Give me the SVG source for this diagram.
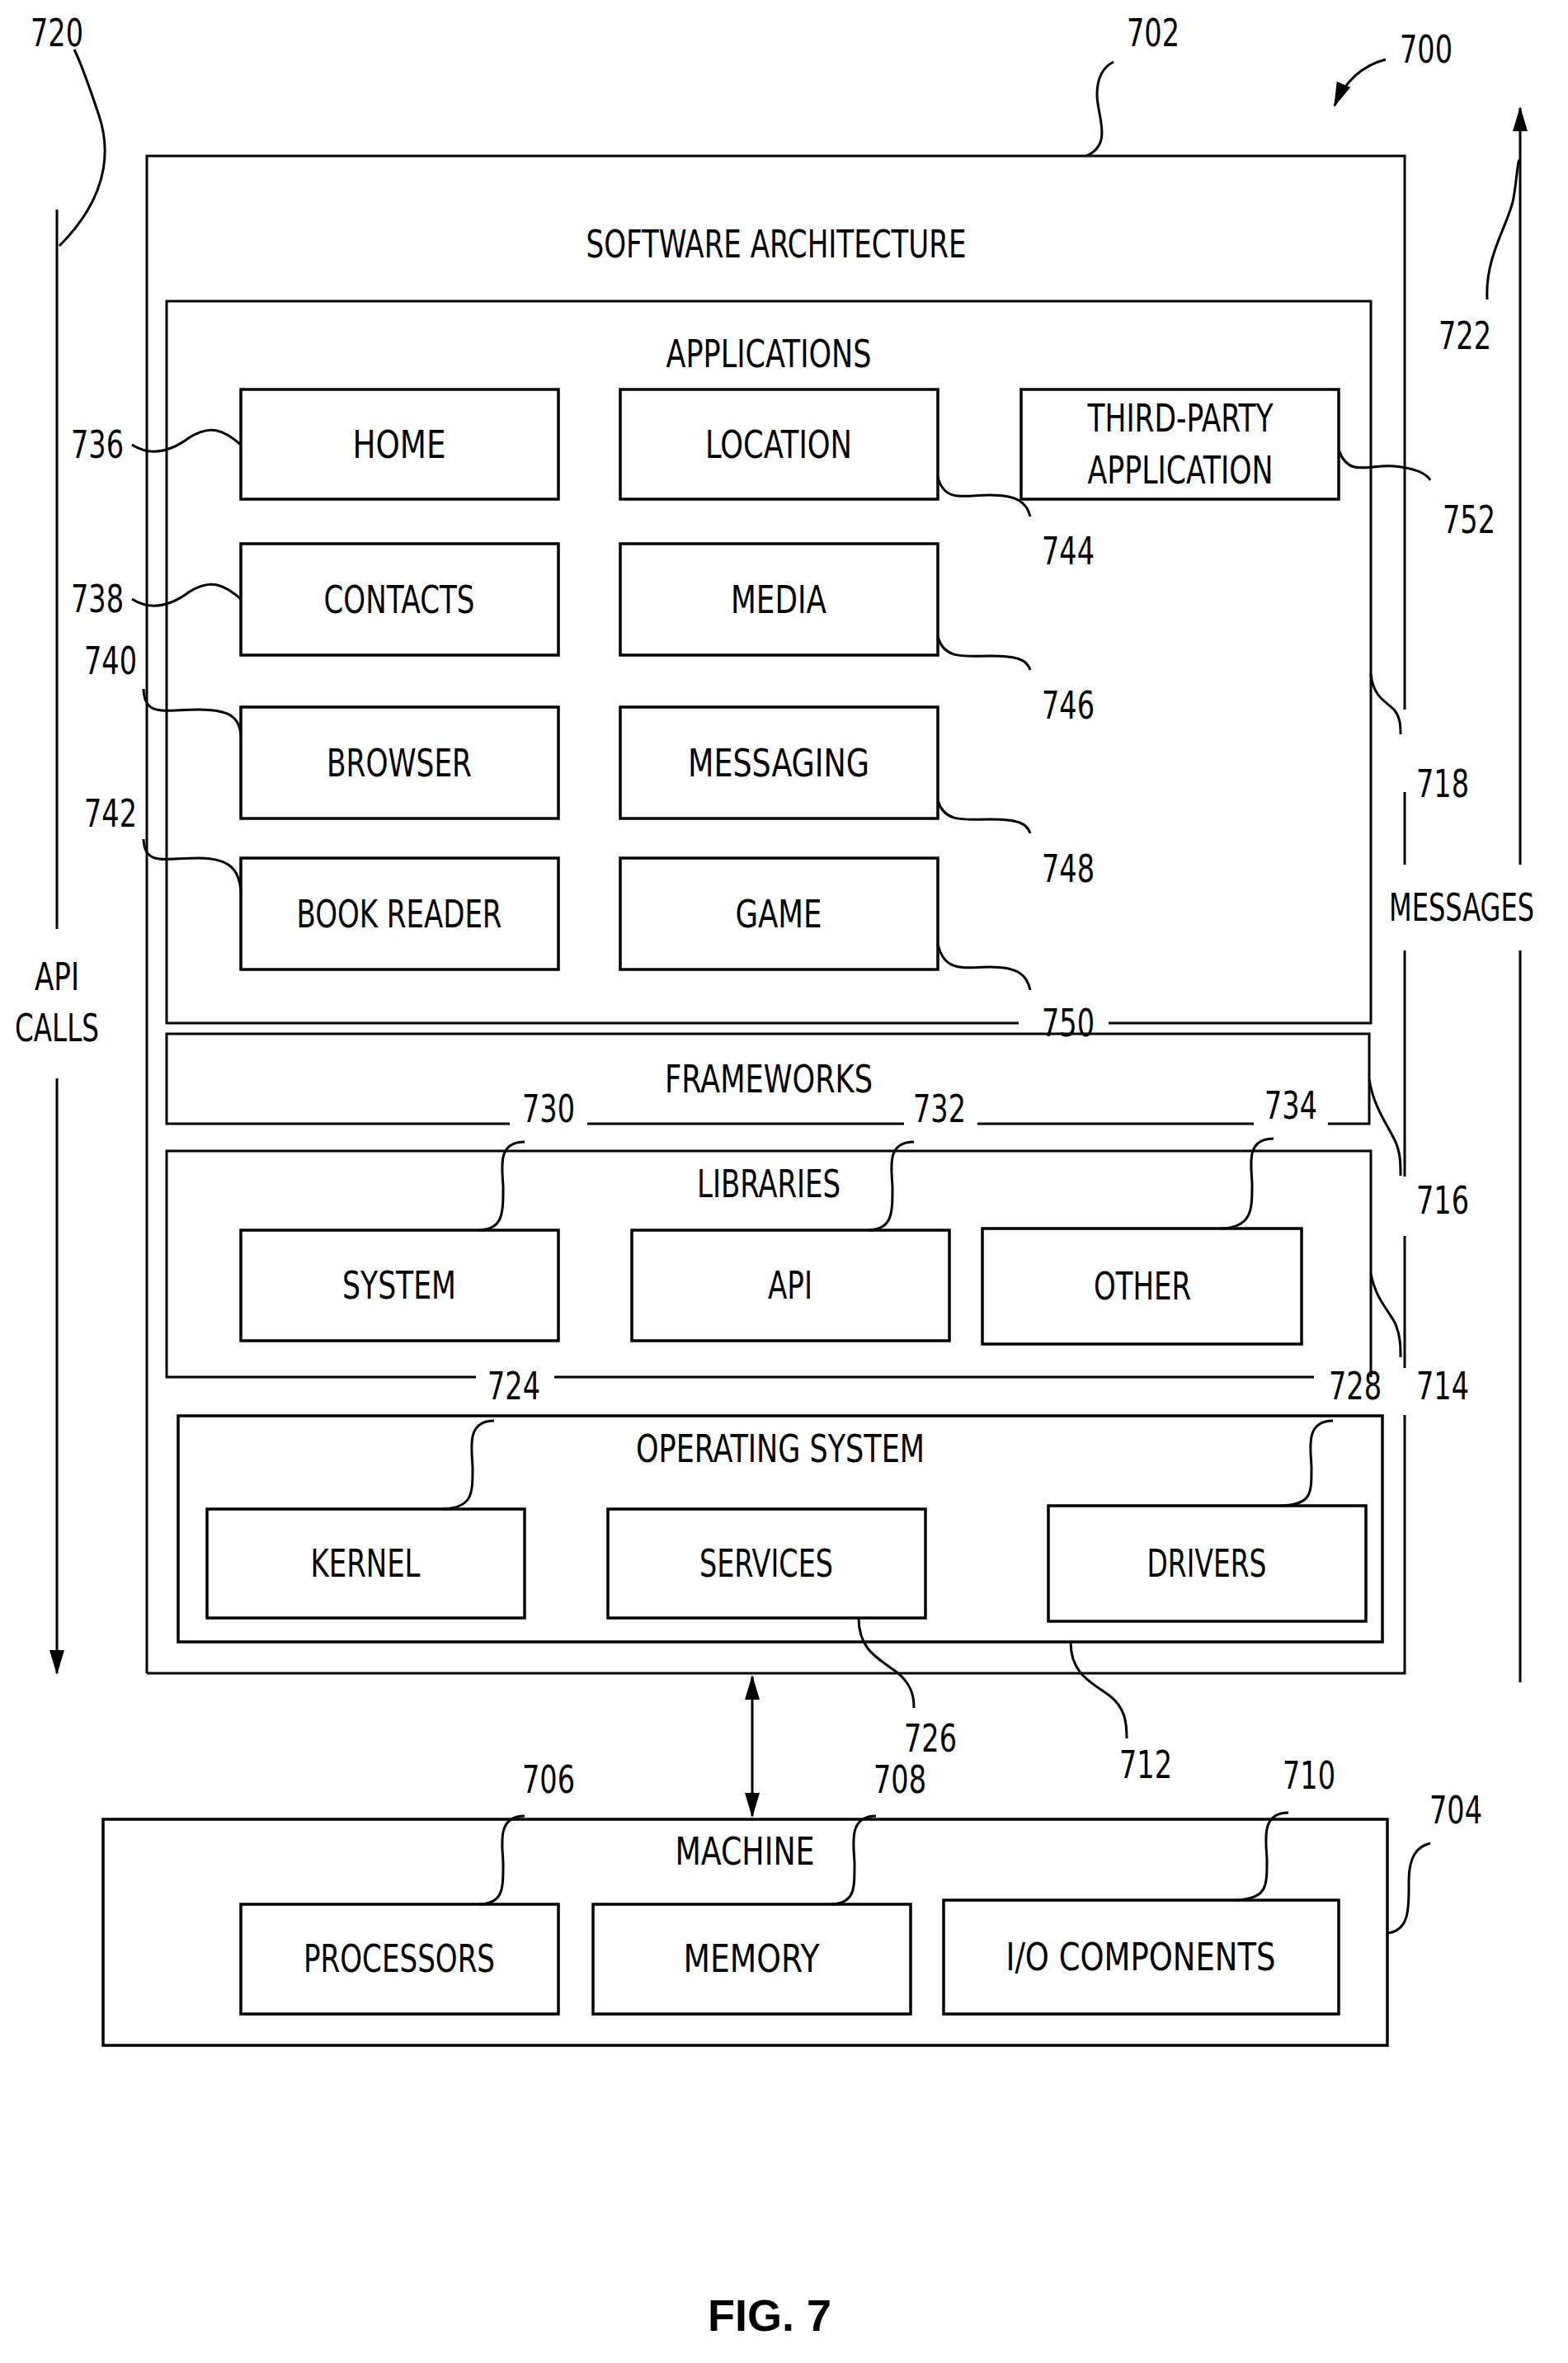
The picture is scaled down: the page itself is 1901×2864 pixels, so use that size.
<svg xmlns="http://www.w3.org/2000/svg" width="1901" height="2864" viewBox="0 0 1901 2864">
<style>
rect{fill:none;stroke:#000;stroke-width:3.5}
.l{fill:none;stroke:#000;stroke-width:3}
text{font-family:"DejaVu Sans Condensed","Liberation Sans",sans-serif;font-size:46px;text-anchor:middle;dominant-baseline:central;fill:#000}
</style>
<defs>
<marker id="ab" markerWidth="30" markerHeight="30" refX="28" refY="15" orient="auto-start-reverse" markerUnits="userSpaceOnUse" viewBox="0 0 30 30"><path d="M0,6 L30,15 L0,24 z" fill="#000"/></marker>
</defs>
<g id="sw">
<path class="l" d="M178 2028 V189 H1703 V860 M1703 960 V1048 M1703 1152 V1426 M1703 1498 V1658 M1703 1715 V2028 H178"/>
<text x="941" y="296" textLength="461" lengthAdjust="spacingAndGlyphs">SOFTWARE ARCHITECTURE</text>
</g>
<g id="apps">
<path class="l" d="M1235 1240 H202 V365 H1662 V1240 H1344"/>
<text x="932" y="429" textLength="249" lengthAdjust="spacingAndGlyphs">APPLICATIONS</text>
</g>
<g id="home"><rect x="292" y="472" width="385" height="133"/><text x="484" y="539" textLength="113" lengthAdjust="spacingAndGlyphs">HOME</text></g>
<g id="location"><rect x="752" y="472" width="385" height="133"/><text x="944" y="539" textLength="178" lengthAdjust="spacingAndGlyphs">LOCATION</text></g>
<g id="third"><rect x="1238" y="472" width="385" height="133"/><text x="1431" y="507" textLength="225" lengthAdjust="spacingAndGlyphs">THIRD-PARTY</text><text x="1431" y="570" textLength="225" lengthAdjust="spacingAndGlyphs">APPLICATION</text></g>
<g id="contacts"><rect x="292" y="659" width="385" height="135"/><text x="484" y="727" textLength="183" lengthAdjust="spacingAndGlyphs">CONTACTS</text></g>
<g id="media"><rect x="752" y="659" width="385" height="135"/><text x="944" y="727" textLength="116" lengthAdjust="spacingAndGlyphs">MEDIA</text></g>
<g id="browser"><rect x="292" y="857" width="385" height="135"/><text x="484" y="925" textLength="176" lengthAdjust="spacingAndGlyphs">BROWSER</text></g>
<g id="messaging"><rect x="752" y="857" width="385" height="135"/><text x="944" y="925" textLength="220" lengthAdjust="spacingAndGlyphs">MESSAGING</text></g>
<g id="book"><rect x="292" y="1040" width="385" height="135"/><text x="484" y="1108" textLength="249" lengthAdjust="spacingAndGlyphs">BOOK READER</text></g>
<g id="game"><rect x="752" y="1040" width="385" height="135"/><text x="944" y="1108" textLength="105" lengthAdjust="spacingAndGlyphs">GAME</text></g>
<g id="frameworks">
<path class="l" d="M618 1362 H202 V1253 H1660 V1362 H1610 M1520 1362 H1185 M1096 1362 H712"/>
<text x="932" y="1308" textLength="252" lengthAdjust="spacingAndGlyphs">FRAMEWORKS</text>
</g>
<g id="libraries">
<path class="l" d="M577 1669 H202 V1395 H1662 V1669 M1593 1669 H672"/>
<text x="932" y="1435" textLength="174" lengthAdjust="spacingAndGlyphs">LIBRARIES</text>
</g>
<g id="system"><rect x="292" y="1491" width="385" height="134"/><text x="484" y="1558" textLength="138" lengthAdjust="spacingAndGlyphs">SYSTEM</text></g>
<g id="api"><rect x="766" y="1491" width="385" height="134"/><text x="958" y="1558" textLength="54" lengthAdjust="spacingAndGlyphs">API</text></g>
<g id="other"><rect x="1191" y="1489" width="387" height="140"/><text x="1385" y="1559" textLength="118" lengthAdjust="spacingAndGlyphs">OTHER</text></g>
<g id="os"><rect x="216" y="1716" width="1460" height="274"/><text x="946" y="1756" textLength="350" lengthAdjust="spacingAndGlyphs">OPERATING SYSTEM</text></g>
<g id="kernel"><rect x="251" y="1829" width="385" height="132"/><text x="443" y="1895" textLength="133" lengthAdjust="spacingAndGlyphs">KERNEL</text></g>
<g id="services"><rect x="737" y="1829" width="385" height="132"/><text x="929" y="1895" textLength="162" lengthAdjust="spacingAndGlyphs">SERVICES</text></g>
<g id="drivers"><rect x="1271" y="1825" width="385" height="140"/><text x="1463" y="1895" textLength="145" lengthAdjust="spacingAndGlyphs">DRIVERS</text></g>
<g id="machine"><rect x="125" y="2205" width="1557" height="274"/><text x="903" y="2244" textLength="169" lengthAdjust="spacingAndGlyphs">MACHINE</text></g>
<g id="processors"><rect x="292" y="2308" width="385" height="133"/><text x="484" y="2374" textLength="232" lengthAdjust="spacingAndGlyphs">PROCESSORS</text></g>
<g id="memory"><rect x="719" y="2308" width="385" height="133"/><text x="911" y="2374" textLength="165" lengthAdjust="spacingAndGlyphs">MEMORY</text></g>
<g id="io"><rect x="1144" y="2303" width="479" height="138"/><text x="1383" y="2372" textLength="327" lengthAdjust="spacingAndGlyphs">I/O COMPONENTS</text></g>
<g id="connectors">
<path class="l" d="M912 2032 V2201" marker-start="url(#ab)" marker-end="url(#ab)"/>
<path class="l" d="M69 254 V1126"/>
<path class="l" d="M69 1307 V2028" marker-end="url(#ab)"/>
<path class="l" d="M1843 2039 V1152"/>
<path class="l" d="M1843 1048 V131" marker-end="url(#ab)"/>
<path class="l" d="M1680 72 C1650 80 1630 100 1618 128" marker-end="url(#ab)"/>
</g>
<g id="leaders">
<path class="l" d="M72 298 C140 230 130 170 120 140 C110 110 100 80 90 60"/>
<path class="l" d="M1317 189 C1350 175 1330 140 1330 115 C1330 90 1340 80 1350 75"/>
<path class="l" d="M1803 363 C1800 310 1830 270 1835 240 C1840 210 1840 190 1843 195"/>
<path class="l" d="M160 539 C185 555 210 545 230 530 C255 515 270 520 292 539"/>
<path class="l" d="M160 726 C185 742 210 732 230 717 C255 702 270 707 292 726"/>
<path class="l" d="M174 835 C175 870 200 860 240 860 C280 860 290 870 292 890"/>
<path class="l" d="M174 1017 C175 1050 200 1040 240 1040 C280 1040 290 1055 292 1080"/>
<path class="l" d="M1137 578 C1145 610 1170 600 1200 600 C1235 600 1245 610 1249 626"/>
<path class="l" d="M1137 772 C1145 800 1170 795 1200 795 C1235 795 1245 800 1249 812"/>
<path class="l" d="M1137 970 C1145 998 1170 993 1200 993 C1235 993 1245 998 1249 1010"/>
<path class="l" d="M1137 1144 C1145 1180 1170 1172 1200 1172 C1235 1172 1245 1182 1249 1200"/>
<path class="l" d="M1623 545 C1635 580 1660 562 1690 565 C1720 568 1730 575 1734 582"/>
<path class="l" d="M1662 817 C1665 845 1680 850 1690 860 C1698 870 1698 880 1698 890"/>
<path class="l" d="M1660 1308 C1665 1340 1680 1360 1690 1380 C1698 1395 1698 1410 1698 1425"/>
<path class="l" d="M1662 1544 C1668 1575 1685 1590 1692 1605 C1698 1620 1698 1632 1698 1645"/>
<path class="l" d="M636 1384 C600 1384 610 1420 610 1440 C610 1470 610 1490 581 1491"/>
<path class="l" d="M1108 1384 C1072 1384 1082 1420 1082 1440 C1082 1470 1082 1490 1053 1491"/>
<path class="l" d="M1544 1380 C1508 1380 1518 1416 1518 1436 C1518 1466 1518 1488 1480 1489"/>
<path class="l" d="M599 1722 C563 1722 573 1760 573 1780 C573 1810 573 1828 536 1829"/>
<path class="l" d="M1616 1722 C1580 1722 1590 1760 1590 1780 C1590 1810 1590 1824 1553 1825"/>
<path class="l" d="M1041 1961 C1041 2000 1065 2010 1085 2025 C1105 2040 1108 2055 1108 2070"/>
<path class="l" d="M1298 1990 C1298 2030 1325 2040 1345 2055 C1365 2070 1366 2090 1366 2107"/>
<path class="l" d="M636 2201 C600 2201 610 2240 610 2260 C610 2290 610 2307 581 2308"/>
<path class="l" d="M1062 2201 C1026 2201 1036 2240 1036 2260 C1036 2290 1036 2307 1008 2308"/>
<path class="l" d="M1562 2197 C1526 2197 1536 2236 1536 2256 C1536 2286 1536 2302 1498 2303"/>
<path class="l" d="M1682 2343 C1710 2340 1708 2310 1708 2280 C1708 2250 1718 2238 1734 2234"/>
</g>
<g id="labels">
<text x="69" y="40" textLength="64" lengthAdjust="spacingAndGlyphs">720</text>
<text x="1398" y="40" textLength="64" lengthAdjust="spacingAndGlyphs">702</text>
<text x="1729" y="60" textLength="64" lengthAdjust="spacingAndGlyphs">700</text>
<text x="1776" y="407" textLength="64" lengthAdjust="spacingAndGlyphs">722</text>
<text x="118" y="539" textLength="64" lengthAdjust="spacingAndGlyphs">736</text>
<text x="118" y="726" textLength="64" lengthAdjust="spacingAndGlyphs">738</text>
<text x="134" y="801" textLength="64" lengthAdjust="spacingAndGlyphs">740</text>
<text x="134" y="986" textLength="64" lengthAdjust="spacingAndGlyphs">742</text>
<text x="1295" y="668" textLength="64" lengthAdjust="spacingAndGlyphs">744</text>
<text x="1295" y="855" textLength="64" lengthAdjust="spacingAndGlyphs">746</text>
<text x="1295" y="1053" textLength="64" lengthAdjust="spacingAndGlyphs">748</text>
<text x="1295" y="1240" textLength="64" lengthAdjust="spacingAndGlyphs">750</text>
<text x="1781" y="630" textLength="64" lengthAdjust="spacingAndGlyphs">752</text>
<text x="1749" y="950" textLength="64" lengthAdjust="spacingAndGlyphs">718</text>
<text x="1749" y="1455" textLength="64" lengthAdjust="spacingAndGlyphs">716</text>
<text x="1749" y="1680" textLength="64" lengthAdjust="spacingAndGlyphs">714</text>
<text x="665" y="1344" textLength="64" lengthAdjust="spacingAndGlyphs">730</text>
<text x="1139" y="1344" textLength="64" lengthAdjust="spacingAndGlyphs">732</text>
<text x="1565" y="1340" textLength="64" lengthAdjust="spacingAndGlyphs">734</text>
<text x="623" y="1680" textLength="64" lengthAdjust="spacingAndGlyphs">724</text>
<text x="1643" y="1680" textLength="64" lengthAdjust="spacingAndGlyphs">728</text>
<text x="1128" y="2107" textLength="64" lengthAdjust="spacingAndGlyphs">726</text>
<text x="1389" y="2139" textLength="64" lengthAdjust="spacingAndGlyphs">712</text>
<text x="665" y="2157" textLength="64" lengthAdjust="spacingAndGlyphs">706</text>
<text x="1091" y="2157" textLength="64" lengthAdjust="spacingAndGlyphs">708</text>
<text x="1587" y="2152" textLength="64" lengthAdjust="spacingAndGlyphs">710</text>
<text x="1765" y="2194" textLength="64" lengthAdjust="spacingAndGlyphs">704</text>
<text x="69" y="1184" textLength="54" lengthAdjust="spacingAndGlyphs">API</text>
<text x="69" y="1246" textLength="102" lengthAdjust="spacingAndGlyphs">CALLS</text>
<text x="1772" y="1100" textLength="176" lengthAdjust="spacingAndGlyphs">MESSAGES</text>
<text x="933" y="2806" style="font-family:'Liberation Sans',sans-serif;font-weight:bold;font-size:54px">FIG. 7</text>
</g>
</svg>
